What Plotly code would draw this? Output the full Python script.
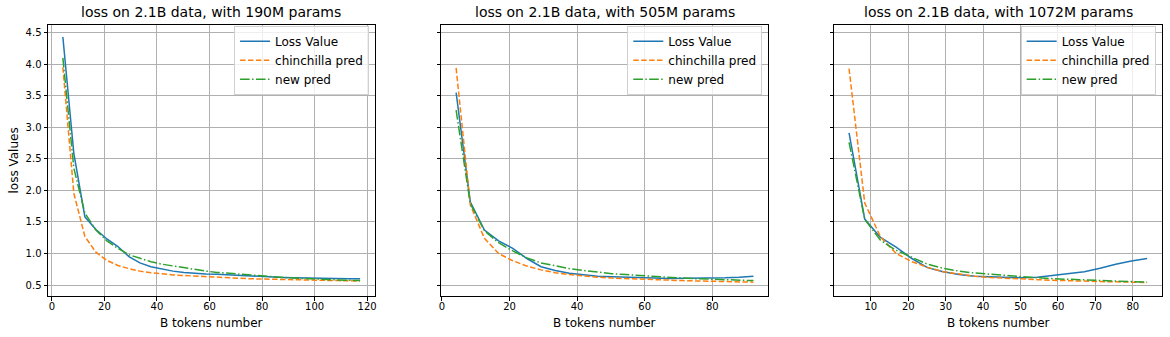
import plotly.graph_objects as go
from plotly.subplots import make_subplots

# B tokens seen at each eval step
tokens = [4.19, 8.38, 12.57, 16.76, 20.95, 25.14, 29.33, 33.52, 37.71, 41.9,
          46.09, 50.28, 54.47, 58.66, 62.85, 67.04, 71.23, 75.42, 79.61, 83.8,
          87.99, 92.18, 96.37, 100.56, 104.75, 108.94, 113.13, 117.32]

titles = ["loss on 2.1B data, with 190M params",
          "loss on 2.1B data, with 505M params",
          "loss on 2.1B data, with 1072M params"]

# 190M
loss_190 = [4.43, 2.58, 1.58, 1.38, 1.23, 1.11, 0.95, 0.85, 0.79, 0.75, 0.72, 0.70, 0.685, 0.675,
            0.67, 0.66, 0.65, 0.64, 0.64, 0.63, 0.62, 0.615, 0.61, 0.61, 0.605, 0.605, 0.60, 0.60]
chin_190 = [3.95, 1.95, 1.27, 1.02, 0.89, 0.81, 0.76, 0.72, 0.695, 0.675, 0.66, 0.65, 0.64, 0.63,
            0.62, 0.615, 0.61, 0.60, 0.595, 0.59, 0.585, 0.582, 0.578, 0.575, 0.572, 0.57, 0.567, 0.565]
new_190 = [4.10, 2.35, 1.64, 1.37, 1.20, 1.08, 0.98, 0.92, 0.87, 0.83, 0.80, 0.77, 0.745, 0.72,
           0.70, 0.685, 0.67, 0.655, 0.64, 0.63, 0.62, 0.61, 0.60, 0.595, 0.59, 0.58, 0.575, 0.57]

# 505M
loss_505 = [3.55, 1.82, 1.37, 1.20, 1.08, 0.92, 0.79, 0.73, 0.685, 0.66, 0.64,
            0.63, 0.62, 0.615, 0.61, 0.605, 0.605, 0.61, 0.615, 0.615, 0.625, 0.64]
chin_505 = [3.94, 1.77, 1.24, 1.00, 0.885, 0.80, 0.74, 0.695, 0.665, 0.64, 0.625,
            0.61, 0.60, 0.59, 0.58, 0.575, 0.57, 0.565, 0.56, 0.555, 0.55, 0.545]
new_505 = [3.27, 1.79, 1.36, 1.17, 1.04, 0.93, 0.85, 0.80, 0.76, 0.73, 0.70,
           0.68, 0.665, 0.65, 0.63, 0.62, 0.61, 0.60, 0.59, 0.585, 0.575, 0.57]

# 1072M
loss_1072 = [2.91, 1.545, 1.255, 1.10, 0.92, 0.775, 0.71, 0.665, 0.64, 0.63,
             0.62, 0.615, 0.625, 0.65, 0.685, 0.71, 0.765, 0.83, 0.88, 0.92]
chin_1072 = [3.93, 1.80, 1.265, 1.00, 0.87, 0.78, 0.71, 0.67, 0.64, 0.62,
             0.605, 0.595, 0.585, 0.575, 0.565, 0.56, 0.555, 0.55, 0.545, 0.54]
new_1072 = [2.76, 1.54, 1.21, 1.05, 0.94, 0.83, 0.765, 0.72, 0.69, 0.67,
            0.65, 0.625, 0.615, 0.60, 0.59, 0.585, 0.575, 0.565, 0.555, 0.545]

runs = [(loss_190, chin_190, new_190),
        (loss_505, chin_505, new_505),
        (loss_1072, chin_1072, new_1072)]

FONT = "DejaVu Sans"
fig = make_subplots(rows=1, cols=3, shared_yaxes=True)

domains = [[0, 0.2935], [0.3530, 0.6466], [0.7057, 1.0]]
legend_x = [0.2882, 0.6412, 0.9943]
legnames = ["legend", "legend2", "legend3"]

for i, (loss, chin, new) in enumerate(runs):
    x = tokens[:len(loss)]
    lg = legnames[i]
    fig.add_trace(go.Scatter(x=x, y=loss, mode="lines", name="Loss Value", legend=lg,
                             line=dict(color="#1f77b4", width=1.5)), row=1, col=i + 1)
    fig.add_trace(go.Scatter(x=x, y=chin, mode="lines", name="chinchilla pred", legend=lg,
                             line=dict(color="#ff7f0e", width=1.5, dash="5.5px,2.4px")), row=1, col=i + 1)
    fig.add_trace(go.Scatter(x=x, y=new, mode="lines", name="new pred", legend=lg,
                             line=dict(color="#2ca02c", width=1.5, dash="9.6px,2.4px,1.5px,2.4px")),
                  row=1, col=i + 1)

    # matplotlib style autoscale: 5% margin
    span = max(x) - min(x)
    xr = [min(x) - 0.05 * span, max(x) + 0.05 * span]
    dt = 10 if i == 2 else 20
    fig.update_xaxes(range=xr, dtick=dt, domain=domains[i], row=1, col=i + 1)

    fig.add_annotation(text=titles[i], x=(domains[i][0] + domains[i][1]) / 2, y=1,
                       xref="paper", yref="paper", xanchor="center", yanchor="bottom",
                       yshift=3, showarrow=False, font=dict(size=14, color="black", family=FONT))
    fig.add_annotation(text="B tokens number", x=(domains[i][0] + domains[i][1]) / 2, y=0,
                       xref="paper", yref="paper", xanchor="center", yanchor="top",
                       yshift=-18, showarrow=False, font=dict(size=12, color="black", family=FONT))

fig.add_annotation(text="loss Values", x=0, y=0.5, xref="paper", yref="paper",
                   xanchor="right", yanchor="middle", xshift=-26, textangle=-90,
                   showarrow=False, font=dict(size=12, color="black", family=FONT))

axis_style = dict(showline=True, linecolor="black", linewidth=1, mirror=True,
                  ticks="outside", ticklen=3.5, tickwidth=1, tickcolor="black",
                  showgrid=True, gridcolor="#b0b0b0", gridwidth=0.8, zeroline=False,
                  tickfont=dict(size=10, color="black", family=FONT))
fig.update_xaxes(**axis_style, ticklabelstandoff=-3)
fig.update_yaxes(**axis_style)
fig.update_yaxes(range=[0.326, 4.62], dtick=0.5, tickformat=".1f")

legend_style = dict(yanchor="top", y=0.997, xanchor="right", itemwidth=30,
                    bgcolor="rgba(255,255,255,0.8)", bordercolor="#d0d0d0", borderwidth=1,
                    font=dict(size=12, color="black", family=FONT), tracegroupgap=0)
fig.update_layout(
    width=1170, height=337,
    margin=dict(l=47.7, r=6.3, t=24.7, b=41),
    plot_bgcolor="white", paper_bgcolor="white",
    font=dict(family=FONT),
    legend=dict(x=legend_x[0], **legend_style),
    legend2=dict(x=legend_x[1], **legend_style),
    legend3=dict(x=legend_x[2], **legend_style),
)

# drop the default 8px page margin so the figure sits at the window corner
fig.write_html("out.html", config={"displayModeBar": False},
               post_script="document.body.style.margin='0';")
